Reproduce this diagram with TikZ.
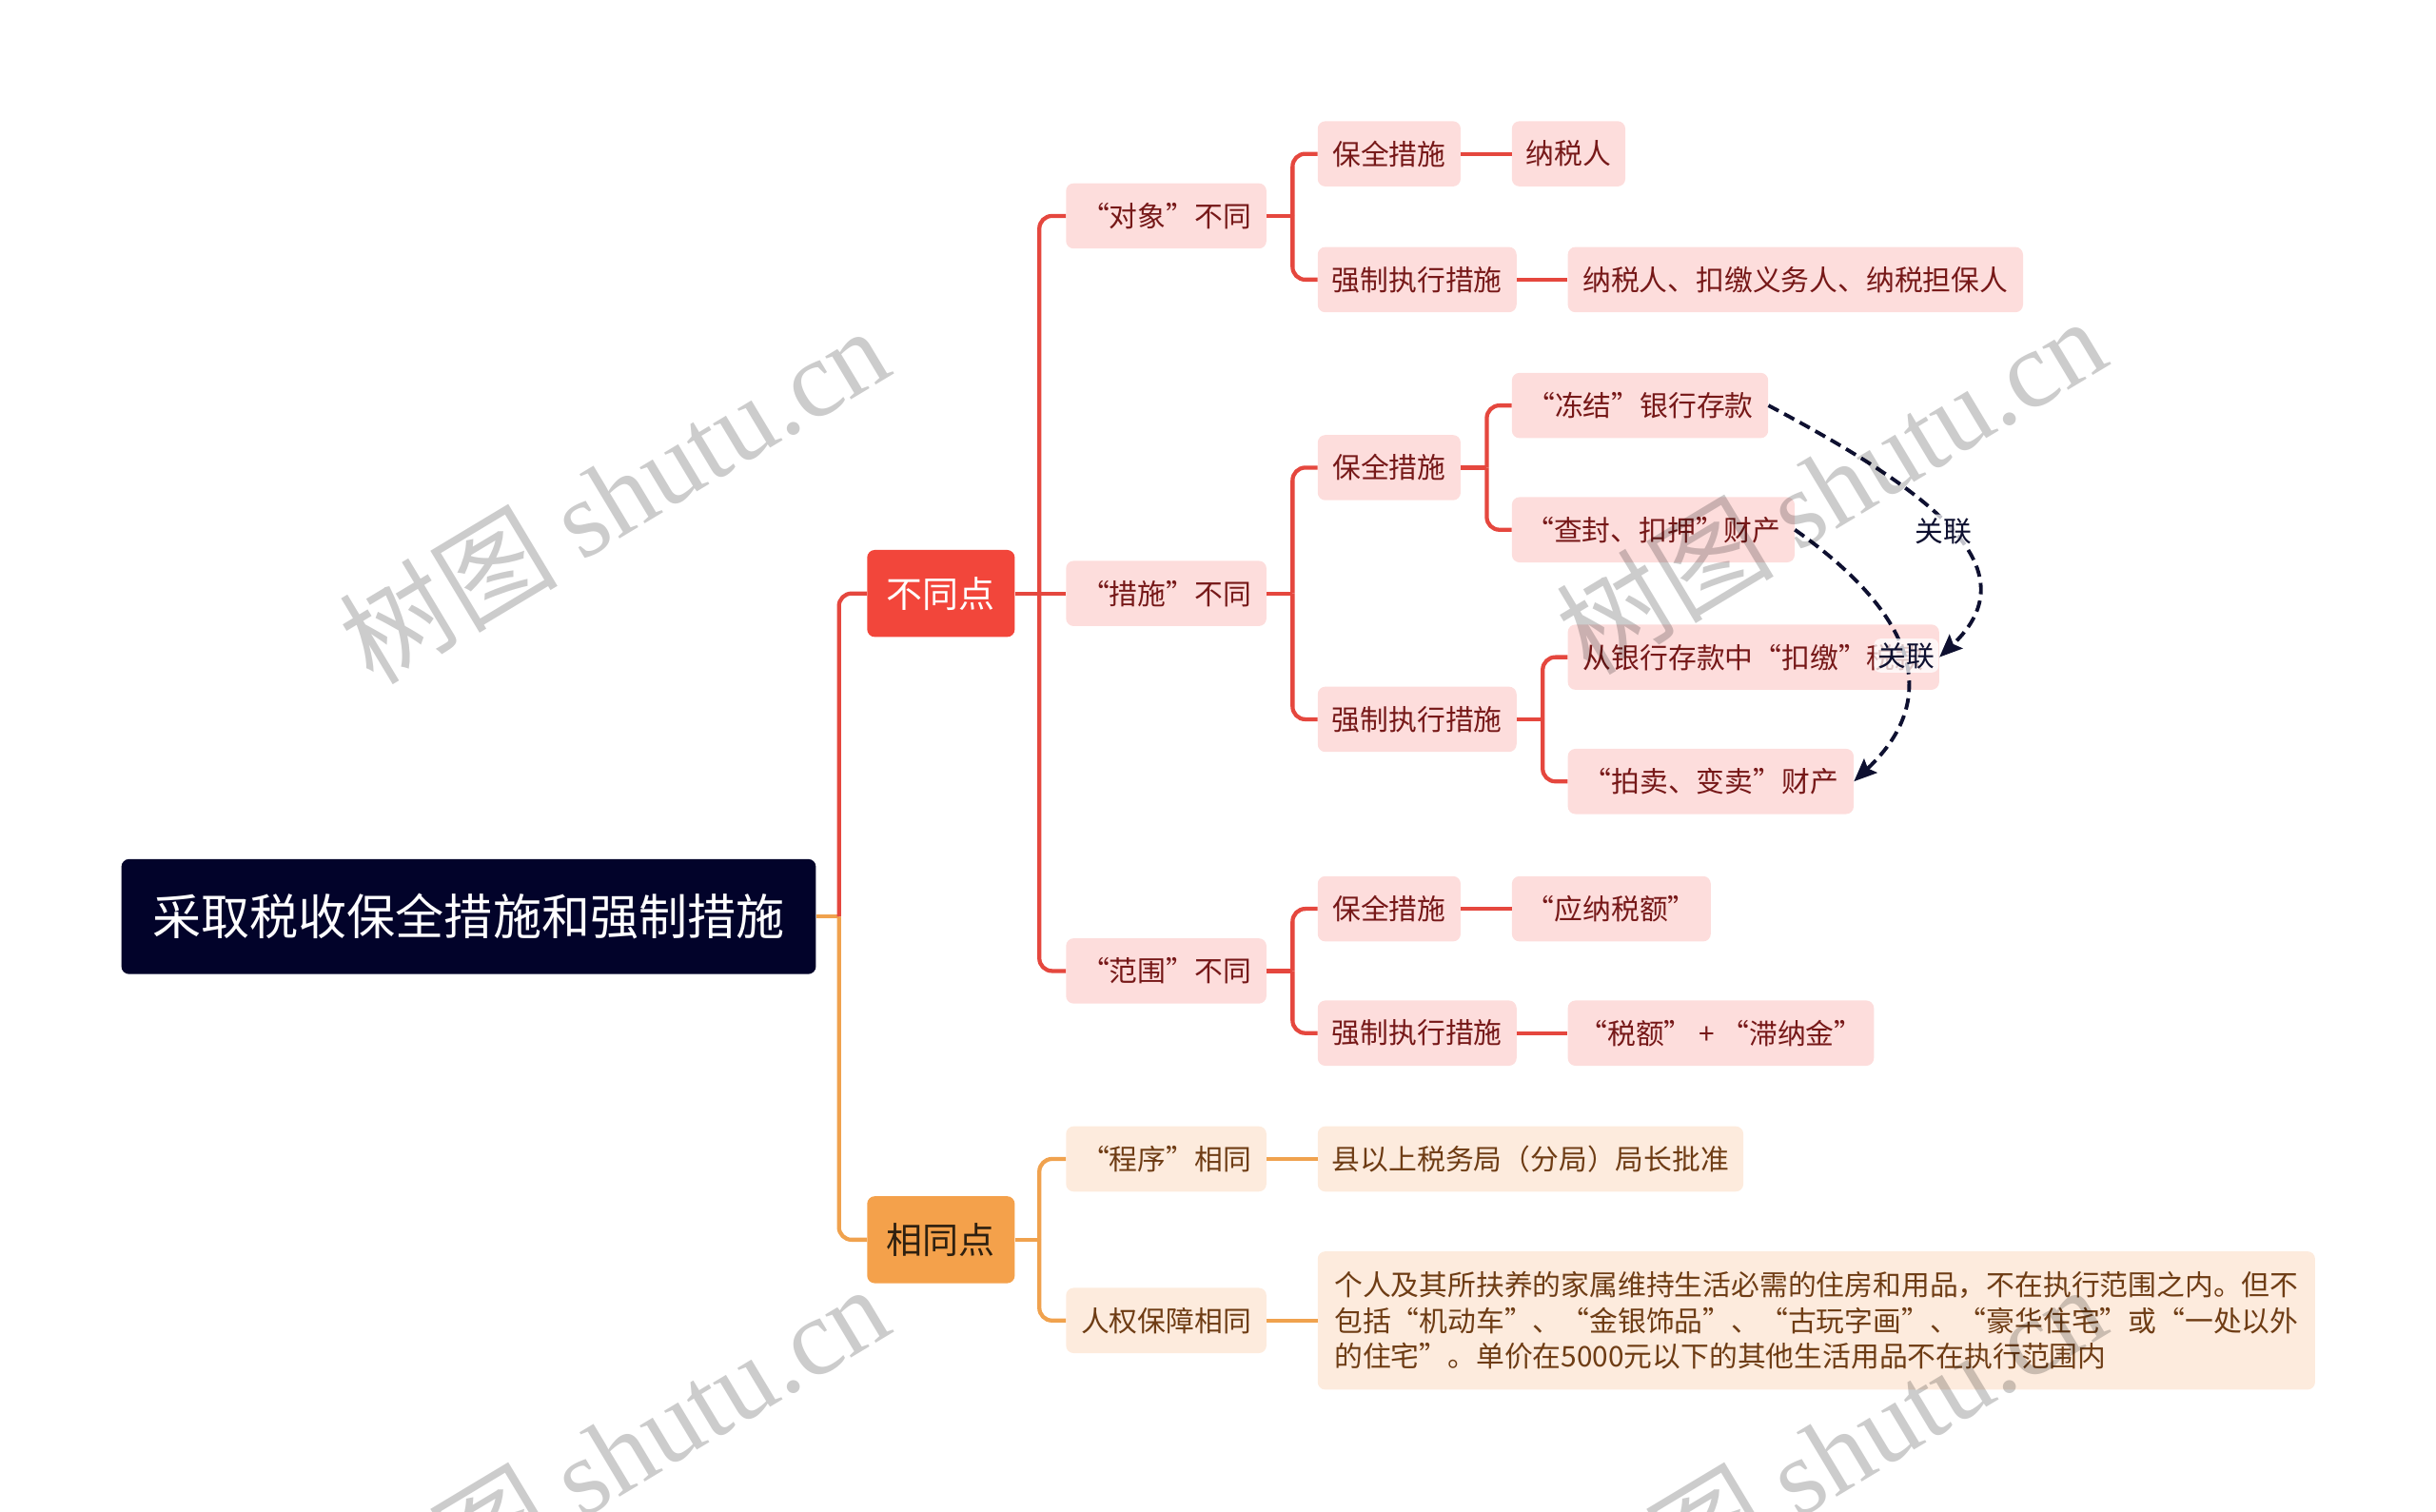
\documentclass[tikz,border=0pt]{standalone}
\usepackage{fontspec}
\setmainfont{Noto Sans CJK SC}
\newfontfamily\wmserif{Liberation Serif}
\usetikzlibrary{arrows.meta}
\definecolor{rootbg}{HTML}{02032A}
\definecolor{redm}{HTML}{F2463B}
\definecolor{redline}{HTML}{E5473E}
\definecolor{pinkbg}{HTML}{FDDDDC}
\definecolor{pinktx}{HTML}{761818}
\definecolor{orgm}{HTML}{F4A14B}
\definecolor{orgtx}{HTML}{2E2010}
\definecolor{orgline}{HTML}{F0A24E}
\definecolor{peachbg}{HTML}{FDEBDD}
\definecolor{peachtx}{HTML}{6E3C14}
\definecolor{navy}{HTML}{0E1030}
\def\U{1.2245pt}
\begin{document}
\begin{tikzpicture}[x=1.2245pt,y=-1.2245pt,
  box/.style={rounded corners=6pt, inner sep=0pt, minimum height=42*\U, anchor=west,
    font=\fontsize{22.35pt}{28.2pt}\selectfont},
  rbox/.style={box, fill=pinkbg, text=pinktx},
  obox/.style={box, fill=peachbg, text=peachtx},
  rl/.style={draw=redline, line width=3.2pt, rounded corners=10pt},
  ol/.style={draw=orgline, line width=3.2pt, rounded corners=10pt},
  rel/.style={draw=navy, line width=2.9pt, dash pattern=on 9pt off 5pt,
    -{Stealth[length=18pt,width=15pt,inset=3pt]}},
  rellab/.style={fill=white, fill opacity=0.75, text opacity=1, text=navy,
    rounded corners=5pt, inner sep=3pt, font=\fontsize{22.35pt}{28pt}\selectfont},
  wm/.style={text=black, opacity=0.2, rotate=31, font=\fontsize{86pt}{90pt}\selectfont}
]
\useasboundingbox (0,0) rectangle (1568,973);

% main nodes
\node[box, fill=rootbg, text=white, minimum width=447*\U, minimum height=74*\U,
  font=\fontsize{38.3pt}{46pt}\selectfont] (root) at (78,590) {采取税收保全措施和强制措施};
\node[box, fill=redm, text=white, minimum width=95*\U, minimum height=56*\U,
  font=\fontsize{28.5pt}{34pt}\selectfont] (bt) at (558,382) {不同点};
\node[box, fill=orgm, text=orgtx, minimum width=95*\U, minimum height=56*\U,
  font=\fontsize{28.5pt}{34pt}\selectfont] (xt) at (558,798) {相同点};

% level 2
\node[rbox, minimum width=129*\U] (a1) at (686,139) {“对象”不同};
\node[rbox, minimum width=129*\U] (a2) at (686,382) {“措施”不同};
\node[rbox, minimum width=129*\U] (a3) at (686,625) {“范围”不同};
\node[obox, minimum width=129*\U] (b1) at (686,746) {“程序”相同};
\node[obox, minimum width=129*\U] (b2) at (686,850) {人权保障相同};

% level 3
\node[rbox, minimum width=92*\U] (a1p) at (848,99) {保全措施};
\node[rbox, minimum width=128*\U] (a1q) at (848,180) {强制执行措施};
\node[rbox, minimum width=92*\U] (a2p) at (848,301) {保全措施};
\node[rbox, minimum width=128*\U] (a2q) at (848,463) {强制执行措施};
\node[rbox, minimum width=92*\U] (a3p) at (848,585) {保全措施};
\node[rbox, minimum width=128*\U] (a3q) at (848,665) {强制执行措施};
\node[obox, minimum width=274*\U] (b1c) at (848,746) {县以上税务局（分局）局长批准};
\node[obox, minimum width=642*\U, minimum height=89*\U, align=left] (b2c) at (848,850)
  {个人及其所扶养的家属维持生活必需的住房和用品，不在执行范围之内。但不\\
   包括“机动车”、“金银饰品”、“古玩字画”、“豪华住宅”或“一处以外\\
   的住宅”。单价在5000元以下的其他生活用品不在执行范围内};

% level 4
\node[rbox, minimum width=73*\U] (a1p1) at (973,99) {纳税人};
\node[rbox, minimum width=293*\U] (a1q1) at (1009,180) {纳税人、扣缴义务人、纳税担保人};
\node[rbox, minimum width=165*\U] (a2p1) at (973,261) {“冻结”银行存款};
\node[rbox, minimum width=182*\U] (a2p2) at (973,341) {“查封、扣押”财产};
\node[rbox, minimum width=239*\U] (a2q1) at (1009,423) {从银行存款中“扣缴”税款};
\node[rbox, minimum width=184*\U] (a2q2) at (1009,503) {“拍卖、变卖”财产};
\node[rbox, minimum width=128*\U] (a3p1) at (973,585) {“应纳税额”};
\node[rbox, minimum width=197*\U] (a3q1) at (1009,665) {“税额” + “滞纳金”};

% junctions
\coordinate (j0) at (540,590);
\coordinate (j1) at (669,382);
\coordinate (j2) at (669,798);
\coordinate (ja1) at (832,139);
\coordinate (ja2) at (832,382);
\coordinate (ja3) at (832,625);
\coordinate (jp2) at (957,301);
\coordinate (jq2) at (993,463);

% connectors
\draw[ol] (root.east) -- (j0);
\draw[rl] (j0) |- (bt.west);
\draw[ol] (j0) |- (xt.west);

\draw[rl] (bt.east) -- (j1);
\draw[rl] (j1) |- (a1.west);
\draw[rl] (j1) -- (a2.west);
\draw[rl] (j1) |- (a3.west);

\draw[ol] (xt.east) -- (j2);
\draw[ol] (j2) |- (b1.west);
\draw[ol] (j2) |- (b2.west);
\draw[ol] (b1.east) -- (b1c.west);
\draw[ol] (b2.east) -- (b2c.west);

\draw[rl] (a1.east) -- (ja1);
\draw[rl] (ja1) |- (a1p.west);
\draw[rl] (ja1) |- (a1q.west);
\draw[rl] (a2.east) -- (ja2);
\draw[rl] (ja2) |- (a2p.west);
\draw[rl] (ja2) |- (a2q.west);
\draw[rl] (a3.east) -- (ja3);
\draw[rl] (ja3) |- (a3p.west);
\draw[rl] (ja3) |- (a3q.west);

\draw[rl] (a1p.east) -- (a1p1.west);
\draw[rl] (a1q.east) -- (a1q1.west);
\draw[rl] (a2p.east) -- (jp2);
\draw[rl] (jp2) |- (a2p1.west);
\draw[rl] (jp2) |- (a2p2.west);
\draw[rl] (a2q.east) -- (jq2);
\draw[rl] (jq2) |- (a2q1.west);
\draw[rl] (jq2) |- (a2q2.west);
\draw[rl] (a3p.east) -- (a3p1.west);
\draw[rl] (a3q.east) -- (a3q1.west);

% relations
\draw[rel] (a2p1.east) .. controls (1240,315) and (1310,365) .. (a2q1.east);
\draw[rel] (a2p2.east) .. controls (1225,390) and (1255,445) .. (a2q2.east);
\node[rellab] (l1) at (1251,342) {关联};
\node[rellab] (l2) at (1227,422) {关联};

% watermarks
\node[wm] (w1) at (395,318) {树图 {\wmserif shutu.cn}};
\node[wm] (w2) at (1178,312) {树图 {\wmserif shutu.cn}};
\node[wm] (w3) at (395,935) {树图 {\wmserif shutu.cn}};
\node[wm] (w4) at (1178,935) {树图 {\wmserif shutu.cn}};
\end{tikzpicture}
\end{document}
